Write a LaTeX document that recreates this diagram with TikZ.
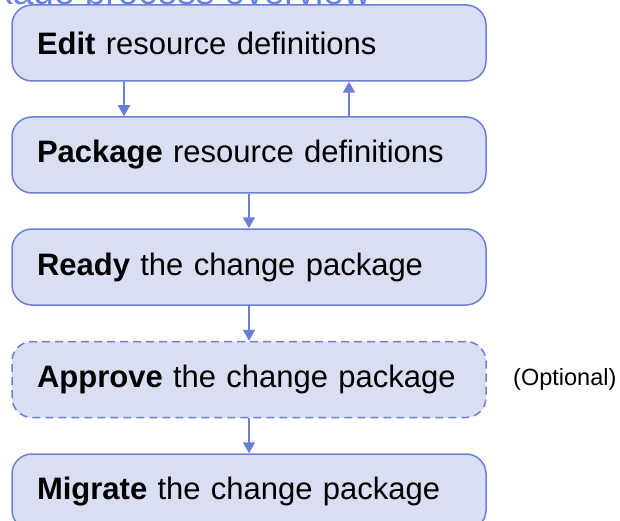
\documentclass[tikz,border=0pt]{standalone}
\usepackage{fontspec}
\setmainfont{Liberation Sans}
\usetikzlibrary{arrows.meta}
\definecolor{boxfill}{RGB}{217,222,242}
\definecolor{boxline}{RGB}{107,127,215}
\definecolor{titleblue}{RGB}{106,128,228}
\tikzset{
  stepbox/.style={draw=boxline, fill=boxfill, line width=1.5pt, rounded corners=20pt,
    minimum width=474pt, minimum height=76pt, text width=424pt, inner xsep=25pt,
    align=left, font=\fontsize{31}{36}\selectfont},
  optbox/.style={stepbox, dash pattern=on 8pt off 5pt},
  flow/.style={draw=boxline, line width=2pt, -{Triangle[length=11pt,width=12pt]}}
}
\begin{document}
\begin{tikzpicture}[x=1pt,y=1pt]
\useasboundingbox (0,0) rectangle (620,-521);
\clip (0,0) rectangle (620,-521);
\node[anchor=base east, text=titleblue, font=\fontsize{37}{42}\selectfont, inner sep=0pt] (title) at (371,-5) {Change package process overview};
\node[stepbox] (b1) at (249,-43) {\textbf{Edit} resource definitions};
\node[stepbox] (b2) at (249,-155) {\textbf{Package} resource definitions};
\node[stepbox] (b3) at (249,-267) {\textbf{Ready} the change package};
\node[optbox] (b4) at (249,-379.5) {\textbf{Approve} the change package};
\node[stepbox] (b5) at (249,-492) {\textbf{Migrate} the change package};
\node[anchor=west, font=\fontsize{23.5}{28}\selectfont, inner sep=0pt] (opt) at (513,-379.5) {(Optional)};
\coordinate (cl) at (124,0);
\coordinate (cr) at (349,0);
\draw[flow] (b1.south -| cl) -- (b2.north -| cl);
\draw[flow] (b2.north -| cr) -- (b1.south -| cr);
\draw[flow] (b2) -- (b3);
\draw[flow] (b3) -- (b4);
\draw[flow] (b4) -- (b5);
\end{tikzpicture}
\end{document}
